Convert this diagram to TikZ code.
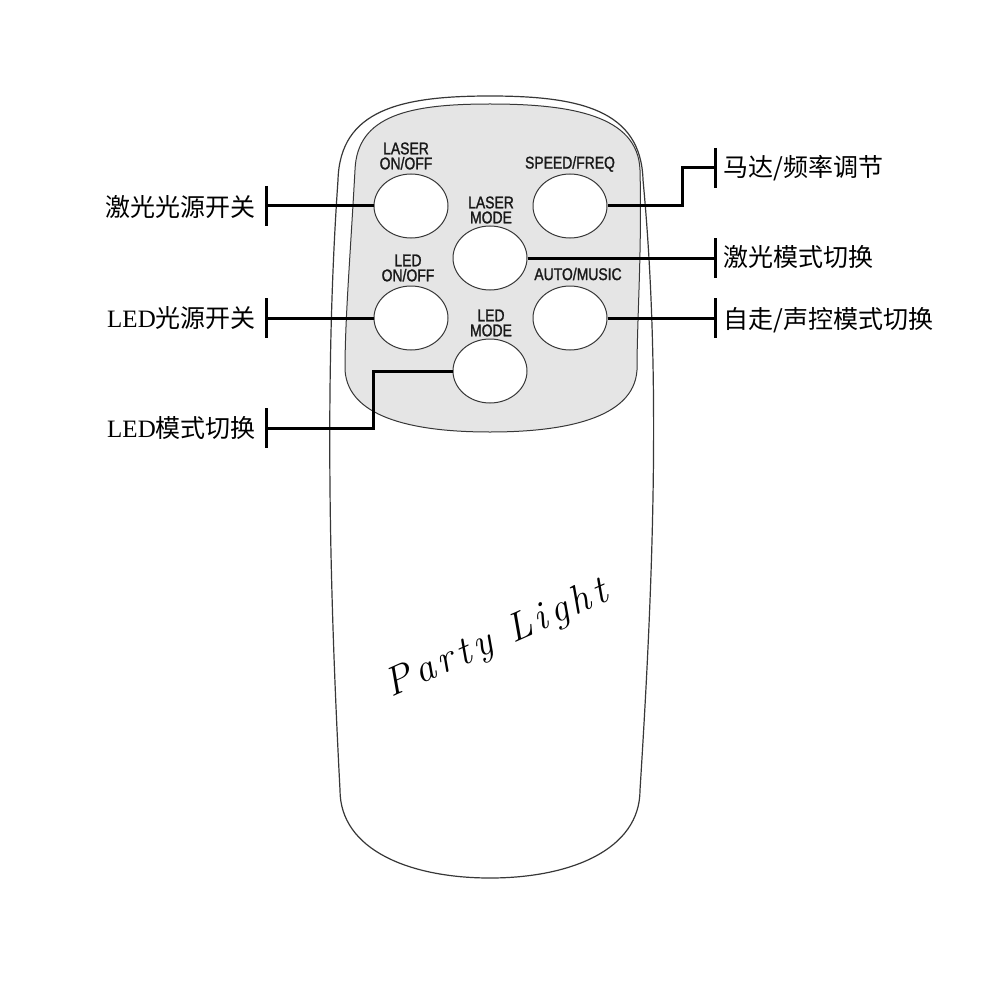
\documentclass[tikz,border=0pt]{standalone}
\usepackage{fontspec}
\newfontfamily\cjk{Noto Sans CJK SC}
\newfontfamily\narrowsans[FakeStretch=0.82,FakeBold=1.4]{Liberation Sans}
\newfontfamily\latinserif{Liberation Serif}
\newfontfamily\handfont[LetterSpace=12]{Latin Modern Roman}
\usetikzlibrary{positioning,calc,shapes.geometric}
\definecolor{panelgrey}{RGB}{229,229,229}
\definecolor{edgegrey}{RGB}{55,55,55}

\begin{document}
\begin{tikzpicture}[x=1pt, y=-1pt,
  btn/.style={ellipse, draw=edgegrey, line width=1pt, fill=white,
              minimum width=74pt, minimum height=64pt, inner sep=0pt},
  caption/.style={align=center, inner sep=0pt, text=black!90,
                  font=\narrowsans\fontsize{17}{15}\selectfont},
  tag/.style={inner sep=0pt, font=\cjk\fontsize{25}{25}\selectfont},
  lead/.style={line width=3pt, black},
  leadbar/.style={line width=3pt, black}
]
\useasboundingbox (0,0) rectangle (1000,1000);

% remote body
\draw[edgegrey, line width=1.2pt, fill=white]
  (490,96) .. controls (400,96) and (340,110) .. (338,180)
  .. controls (324,380) and (330,600) .. (340,790)
  .. controls (340,850) and (410,878) .. (490,878)
  .. controls (570,878) and (640,850) .. (640,790)
  .. controls (652,600) and (662,380) .. (643,180)
  .. controls (641,110) and (580,96) .. (490,96) -- cycle;

% button panel
\draw[edgegrey, line width=1pt, fill=panelgrey]
  (490,104) .. controls (410,104) and (357,115) .. (355,170)
  .. controls (350,260) and (345,320) .. (345,370)
  .. controls (348,420) and (420,432) .. (490,432)
  .. controls (560,432) and (634,420) .. (637,370)
  .. controls (637,320) and (642,250) .. (640,170)
  .. controls (638,115) and (570,104) .. (490,104) -- cycle;

% buttons
\node[btn] (bLaserOnOff) at (411,206) {};
\node[btn] (bSpeed)      at (570,206) {};
\node[btn] (bLaserMode)  at (490,258) {};
\node[btn] (bLedOnOff)   at (411,318) {};
\node[btn] (bAutoMusic)  at (570,318) {};
\node[btn] (bLedMode)    at (490,371) {};

% button captions
\node[caption] (cLaserOnOff) at (406,156) {LASER\\ON/OFF};
\node[caption] (cSpeed)      at (570,164) {SPEED/FREQ};
\node[caption] (cLaserMode)  at (491,210) {LASER\\MODE};
\node[caption] (cLedOnOff)   at (408,268) {LED\\ON/OFF};
\node[caption] (cAutoMusic)  at (578,274) {AUTO/MUSIC};
\node[caption] (cLedMode)    at (491,323) {LED\\MODE};

% brand
\node[rotate=24, font=\handfont\itshape\fontsize{40}{40}\selectfont] (brand) at (497,640) {Party Light};

% left labels
\node[tag, anchor=east] (tLaserOnOff) at (256,207) {激光光源开关};
\node[tag, anchor=east] (tLedOnOff)   at (256,318) {{\latinserif LED}光源开关};
\node[tag, anchor=east] (tLedMode)    at (256,428) {{\latinserif LED}模式切换};
\coordinate (jLaserOnOff) at (266,206);
\coordinate (jLedOnOff)   at (266,318);
\coordinate (jLedMode)    at (266,428);

% right labels
\node[tag, anchor=west] (tSpeed)      at (723,168) {马达/频率调节};
\node[tag, anchor=west] (tLaserMode)  at (723,257) {激光模式切换};
\node[tag, anchor=west] (tAutoMusic)  at (723,320) {自走/声控模式切换};
\coordinate (jSpeed)      at (715,168);
\coordinate (jLaserMode)  at (715,258);
\coordinate (jAutoMusic)  at (715,318);

% end bars
\foreach \j in {jLaserOnOff,jLedOnOff,jLedMode,jSpeed,jLaserMode,jAutoMusic}
  \draw[leadbar] ($(\j)+(0,-20)$) -- ($(\j)+(0,20)$);

% leader lines
\draw[lead] (jLaserOnOff) -- (bLaserOnOff.west);
\draw[lead] (jLedOnOff) -- (bLedOnOff.west);
\draw[lead] (jLedMode) -- ++(107,0) |- (bLedMode.west);
\draw[lead] (bSpeed.east) -- ++(75,0) |- (jSpeed);
\draw[lead] (bLaserMode.east) -- (jLaserMode);
\draw[lead] (bAutoMusic.east) -- (jAutoMusic);
\end{tikzpicture}
\end{document}
